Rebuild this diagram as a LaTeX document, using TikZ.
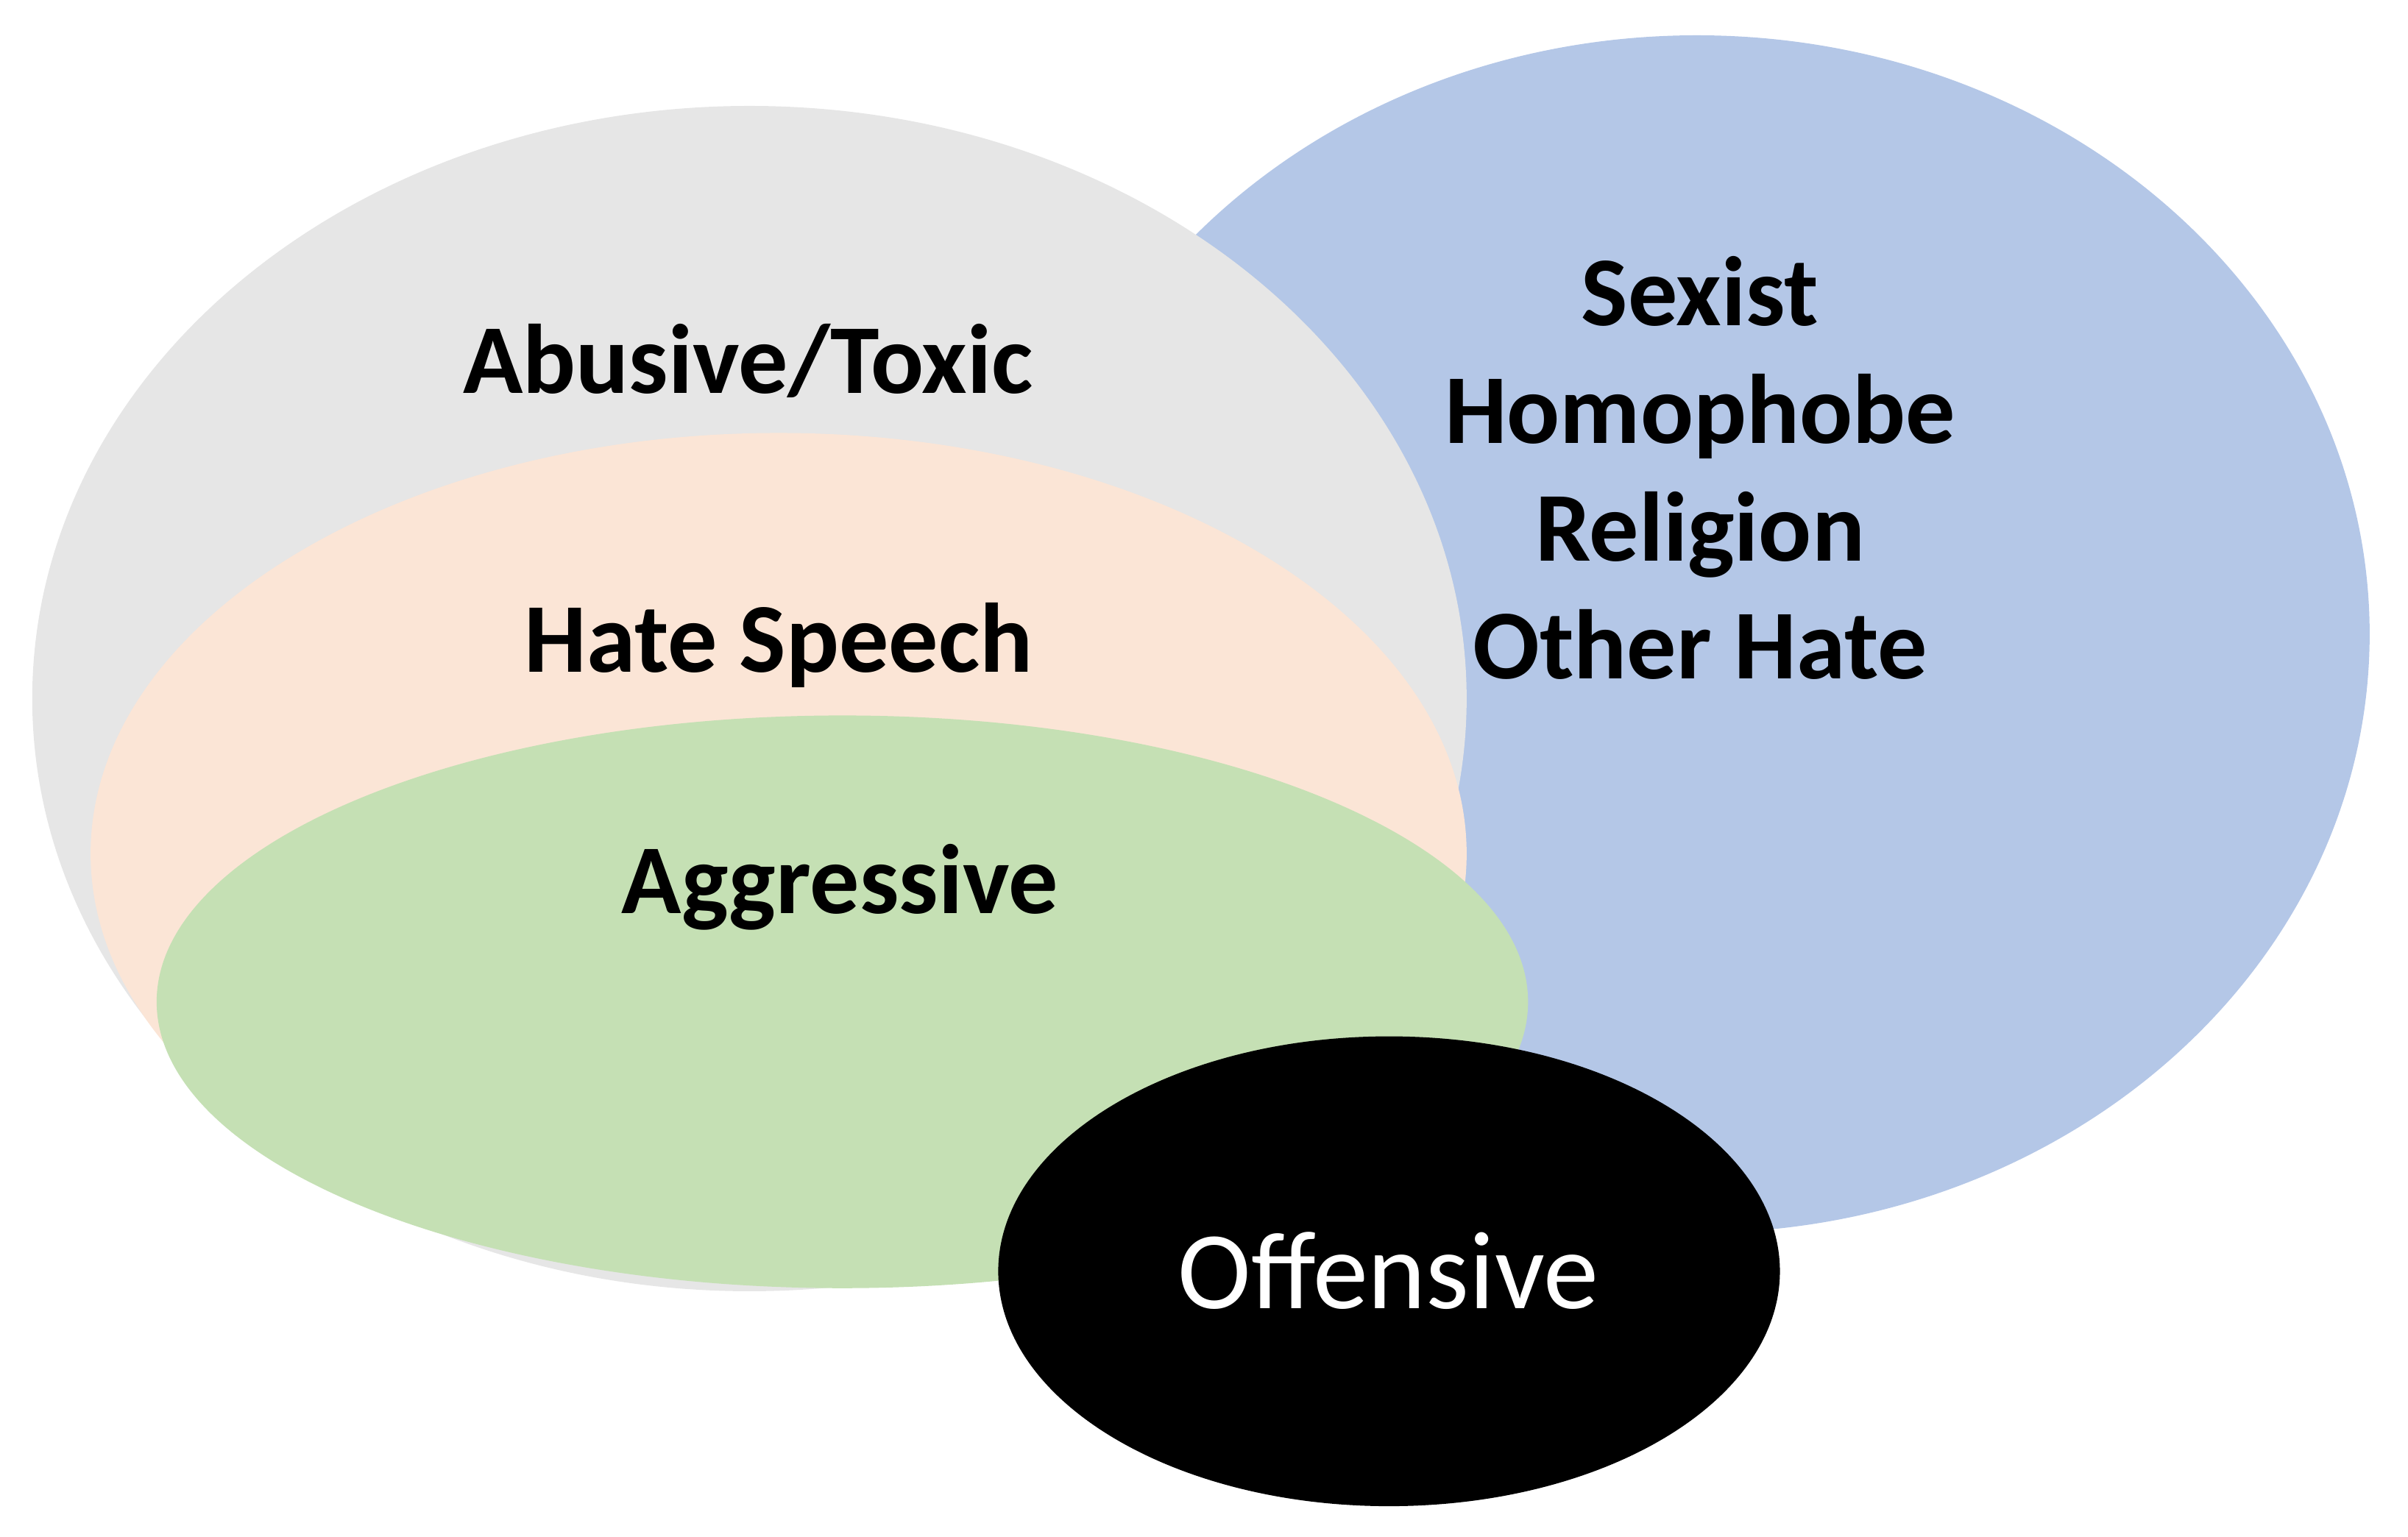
\documentclass[tikz,border=0pt]{standalone}
\usepackage{fontspec}
\setmainfont{Carlito}
\definecolor{toxicgray}{HTML}{E6E6E6}
\definecolor{hatepeach}{HTML}{FBE5D6}
\definecolor{aggrgreen}{HTML}{C5E0B4}
\definecolor{targetblue}{HTML}{B4C7E7}
\tikzset{
  tag/.style={font=\fontsize{18.3}{21.8}\selectfont\bfseries, inner sep=0pt, anchor=base},
}
\begin{document}
\begin{tikzpicture}
    \useasboundingbox (0, 0) rectangle (15.68, 10.01);
    % the sets, back to front
    \fill[targetblue] (11.05, 5.88) ellipse [x radius=4.38, y radius=3.90];
    \fill[toxicgray] (4.88, 5.46) ellipse [x radius=4.67, y radius=3.86];
    \fill[hatepeach] (5.07, 4.45) ellipse [x radius=4.48, y radius=2.74];
    \fill[aggrgreen] (5.485, 3.485) ellipse [x radius=4.465, y radius=1.865];
    \fill[black] (9.045, 1.73) ellipse [x radius=2.545, y radius=1.53];

    \node[tag] (abusive) at (4.87, 7.45) {Abusive/Toxic};
    \node[tag] (hate) at (5.07, 5.63) {Hate Speech};
    \node[tag] (aggr) at (5.47, 4.06) {Aggressive};
    % base = last line
    \node[tag, align=center] (targets) at (11.07, 5.59) {Sexist\\Homophobe\\Religion\\Other Hate};

    \node[font=\fontsize{20.5}{24}\selectfont, text=white, inner sep=0pt, anchor=base] (offensive) at (9.04, 1.485) {Offensive};
  \end{tikzpicture}
\end{document}
